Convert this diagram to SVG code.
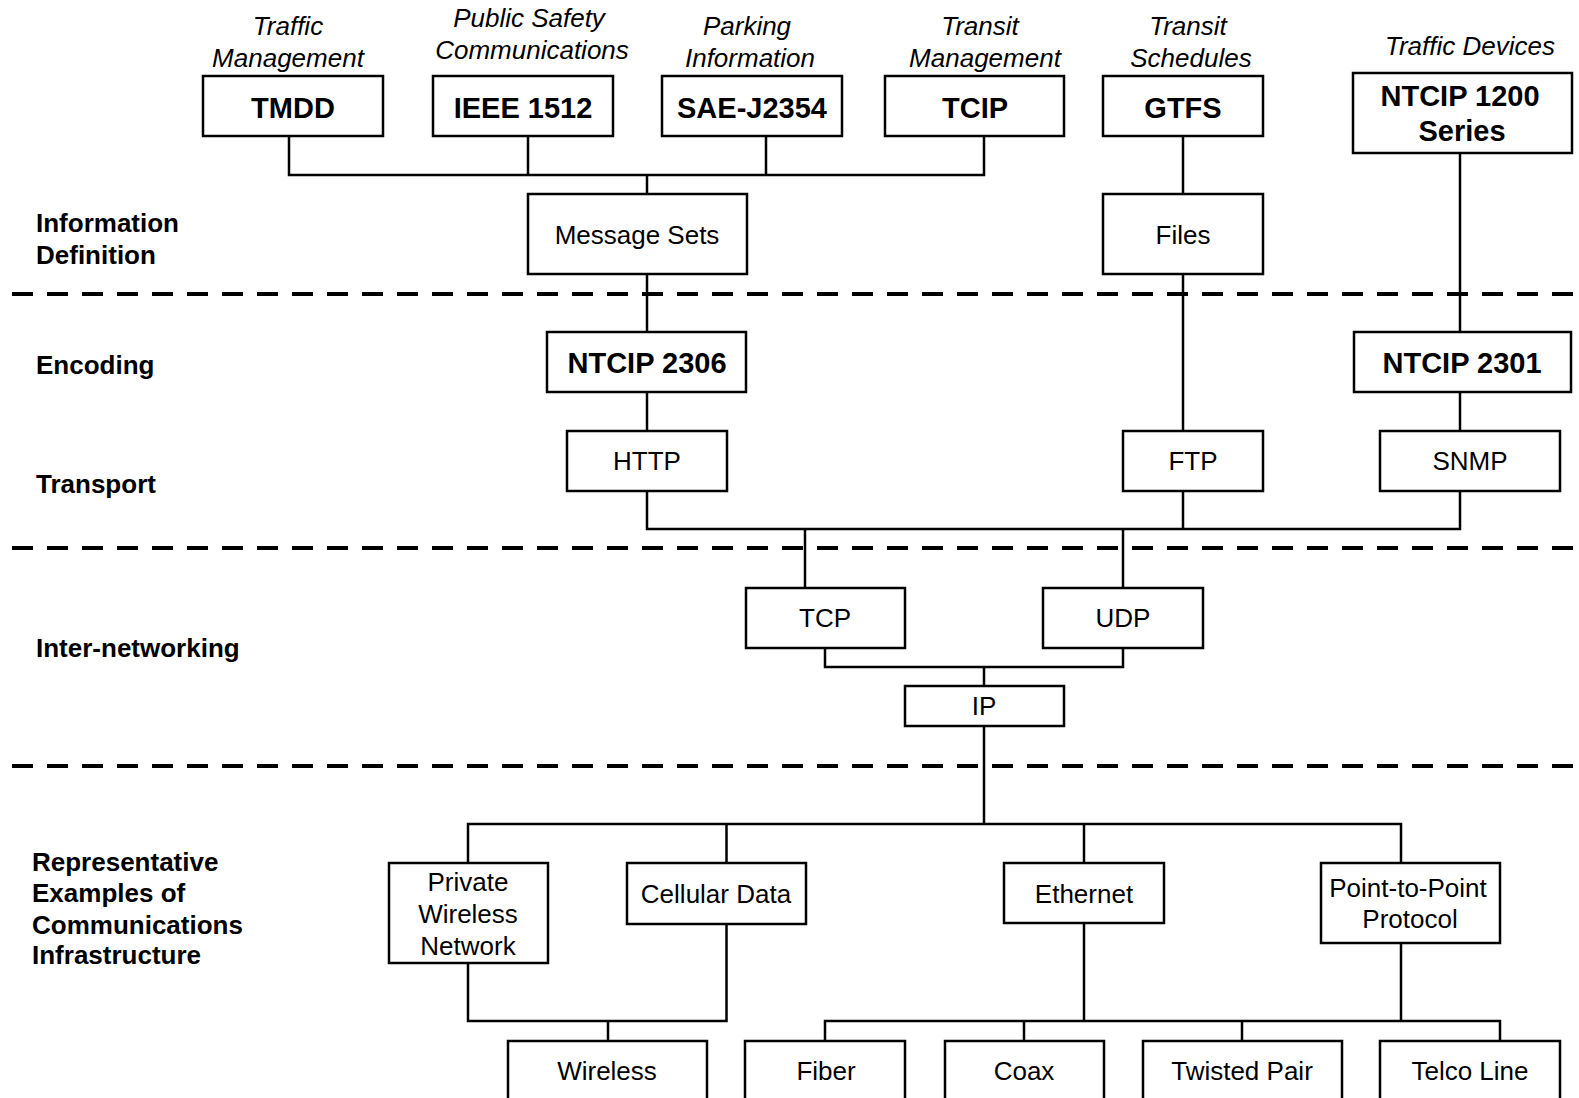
<svg xmlns="http://www.w3.org/2000/svg" width="1579" height="1098" viewBox="0 0 1579 1098">
<style>
  .box { fill: #fff; stroke: #000; stroke-width: 2.5; }
  .conn { fill: none; stroke: #000; stroke-width: 2.5; }
  .dash { fill: none; stroke: #000; stroke-width: 4; stroke-dasharray: 21 14; }
  text { font-family: "Liberation Sans", Arial, sans-serif; fill: #000; }
  .bold { font-weight: bold; font-size: 29px; text-anchor: middle; }
  .plain { font-size: 26px; text-anchor: middle; }
  .ital { font-style: italic; font-size: 26px; text-anchor: middle; }
  .layer { font-weight: bold; font-size: 26px; }
</style>
<rect width="1579" height="1098" fill="#fff"/>

<g id="dividers">
  <line class="dash" x1="12" y1="294" x2="1579" y2="294"/>
  <line class="dash" x1="12" y1="548" x2="1579" y2="548"/>
  <line class="dash" x1="12" y1="766" x2="1579" y2="766"/>
</g>

<g id="layer-labels">
  <text class="layer" x="36" y="232">Information</text>
  <text class="layer" x="36" y="264">Definition</text>
  <text class="layer" x="36" y="374">Encoding</text>
  <text class="layer" x="36" y="493">Transport</text>
  <text class="layer" x="36" y="657">Inter-networking</text>
  <text class="layer" x="32" y="871">Representative</text>
  <text class="layer" x="32" y="902">Examples of</text>
  <text class="layer" x="32" y="934">Communications</text>
  <text class="layer" x="32" y="964">Infrastructure</text>
</g>

<g id="connectors">
  <polyline class="conn" points="289,136 289,175 984,175 984,136"/>
  <line class="conn" x1="528" y1="136" x2="528" y2="175"/>
  <line class="conn" x1="766" y1="136" x2="766" y2="175"/>
  <line class="conn" x1="647" y1="175" x2="647" y2="194"/>
  <line class="conn" x1="647" y1="274" x2="647" y2="332"/>
  <line class="conn" x1="647" y1="392" x2="647" y2="431"/>
  <line class="conn" x1="1183" y1="136" x2="1183" y2="194"/>
  <line class="conn" x1="1183" y1="274" x2="1183" y2="431"/>
  <line class="conn" x1="1460" y1="153" x2="1460" y2="332"/>
  <line class="conn" x1="1460" y1="392" x2="1460" y2="431"/>
  <polyline class="conn" points="647,491 647,529 1460,529 1460,491"/>
  <line class="conn" x1="1183" y1="491" x2="1183" y2="529"/>
  <line class="conn" x1="805" y1="529" x2="805" y2="588"/>
  <line class="conn" x1="1123" y1="529" x2="1123" y2="588"/>
  <polyline class="conn" points="825,648 825,667 1123,667 1123,648"/>
  <line class="conn" x1="984" y1="667" x2="984" y2="686"/>
  <line class="conn" x1="984" y1="726" x2="984" y2="824"/>
  <polyline class="conn" points="468,863 468,824 1401,824 1401,863"/>
  <line class="conn" x1="726.5" y1="824" x2="726.5" y2="863"/>
  <line class="conn" x1="1084" y1="824" x2="1084" y2="863"/>
  <polyline class="conn" points="468,963 468,1021 726.5,1021 726.5,924"/>
  <line class="conn" x1="608" y1="1021" x2="608" y2="1041"/>
  <line class="conn" x1="1084" y1="923" x2="1084" y2="1021"/>
  <line class="conn" x1="1401" y1="943" x2="1401" y2="1021"/>
  <polyline class="conn" points="825,1041 825,1021 1500,1021 1500,1041"/>
  <line class="conn" x1="1024" y1="1021" x2="1024" y2="1041"/>
  <line class="conn" x1="1242" y1="1021" x2="1242" y2="1041"/>
</g>

<g id="tmdd">
  <text class="ital" x="288" y="35">Traffic</text>
  <text class="ital" x="288" y="67">Management</text>
  <rect class="box" x="203" y="76" width="180" height="60"/>
  <text class="bold" x="293" y="118">TMDD</text>
</g>
<g id="ieee1512">
  <text class="ital" x="529" y="27">Public Safety</text>
  <text class="ital" x="532" y="59">Communications</text>
  <rect class="box" x="433" y="76" width="180" height="60"/>
  <text class="bold" x="523" y="118">IEEE 1512</text>
</g>
<g id="sae">
  <text class="ital" x="747" y="35">Parking</text>
  <text class="ital" x="750" y="67">Information</text>
  <rect class="box" x="662" y="76" width="180" height="60"/>
  <text class="bold" x="752" y="118">SAE-J2354</text>
</g>
<g id="tcip">
  <text class="ital" x="980" y="35">Transit</text>
  <text class="ital" x="985" y="67">Management</text>
  <rect class="box" x="885" y="76" width="179" height="60"/>
  <text class="bold" x="975" y="118">TCIP</text>
</g>
<g id="gtfs">
  <text class="ital" x="1188" y="35">Transit</text>
  <text class="ital" x="1191" y="67">Schedules</text>
  <rect class="box" x="1103" y="76" width="160" height="60"/>
  <text class="bold" x="1183" y="118">GTFS</text>
</g>
<g id="ntcip1200">
  <text class="ital" x="1470" y="55">Traffic Devices</text>
  <rect class="box" x="1353" y="73" width="219" height="80"/>
  <text class="bold" x="1460" y="106">NTCIP 1200</text>
  <text class="bold" x="1462" y="141">Series</text>
</g>
<g id="message-sets">
  <rect class="box" x="528" y="194" width="219" height="80"/>
  <text class="plain" x="637" y="244">Message Sets</text>
</g>
<g id="files">
  <rect class="box" x="1103" y="194" width="160" height="80"/>
  <text class="plain" x="1183" y="244">Files</text>
</g>
<g id="ntcip2306">
  <rect class="box" x="547" y="332" width="199" height="60"/>
  <text class="bold" x="647" y="373">NTCIP 2306</text>
</g>
<g id="ntcip2301">
  <rect class="box" x="1354" y="332" width="217" height="60"/>
  <text class="bold" x="1462" y="373">NTCIP 2301</text>
</g>
<g id="http">
  <rect class="box" x="567" y="431" width="160" height="60"/>
  <text class="plain" x="647" y="470">HTTP</text>
</g>
<g id="ftp">
  <rect class="box" x="1123" y="431" width="140" height="60"/>
  <text class="plain" x="1193" y="470">FTP</text>
</g>
<g id="snmp">
  <rect class="box" x="1380" y="431" width="180" height="60"/>
  <text class="plain" x="1470" y="470">SNMP</text>
</g>
<g id="tcp">
  <rect class="box" x="746" y="588" width="159" height="60"/>
  <text class="plain" x="825" y="627">TCP</text>
</g>
<g id="udp">
  <rect class="box" x="1043" y="588" width="160" height="60"/>
  <text class="plain" x="1123" y="627">UDP</text>
</g>
<g id="ip">
  <rect class="box" x="905" y="686" width="159" height="40"/>
  <text class="plain" x="984" y="715">IP</text>
</g>
<g id="private-wireless">
  <rect class="box" x="389" y="863" width="159" height="100"/>
  <text class="plain" x="468" y="891">Private</text>
  <text class="plain" x="468" y="923">Wireless</text>
  <text class="plain" x="468" y="955">Network</text>
</g>
<g id="cellular">
  <rect class="box" x="627" y="863" width="179" height="61"/>
  <text class="plain" x="716" y="903">Cellular Data</text>
</g>
<g id="ethernet">
  <rect class="box" x="1004" y="863" width="160" height="60"/>
  <text class="plain" x="1084" y="903">Ethernet</text>
</g>
<g id="ppp">
  <rect class="box" x="1321" y="863" width="179" height="80"/>
  <text class="plain" x="1408" y="897">Point-to-Point</text>
  <text class="plain" x="1410" y="928">Protocol</text>
</g>
<g id="wireless">
  <rect class="box" x="508" y="1041" width="199" height="70"/>
  <text class="plain" x="607" y="1080">Wireless</text>
</g>
<g id="fiber">
  <rect class="box" x="745" y="1041" width="160" height="70"/>
  <text class="plain" x="826" y="1080">Fiber</text>
</g>
<g id="coax">
  <rect class="box" x="945" y="1041" width="159" height="70"/>
  <text class="plain" x="1024" y="1080">Coax</text>
</g>
<g id="twisted-pair">
  <rect class="box" x="1143" y="1041" width="199" height="70"/>
  <text class="plain" x="1242" y="1080">Twisted Pair</text>
</g>
<g id="telco">
  <rect class="box" x="1380" y="1041" width="180" height="70"/>
  <text class="plain" x="1470" y="1080">Telco Line</text>
</g>
</svg>
